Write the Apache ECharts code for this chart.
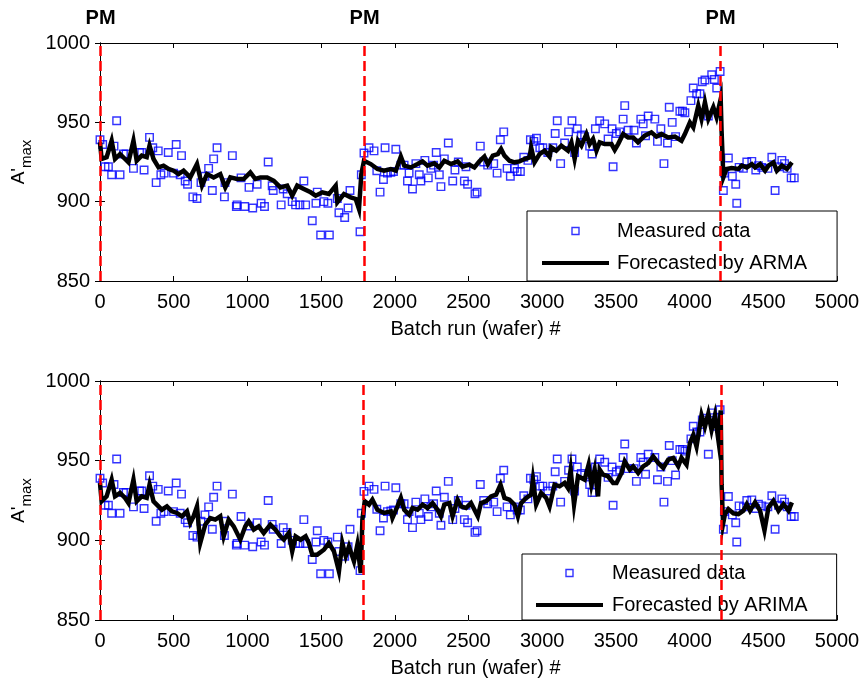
<!DOCTYPE html>
<html><head><meta charset="utf-8">
<script src="https://cdn.jsdelivr.net/npm/echarts@6/dist/echarts.min.js"></script>
<style>html,body{margin:0;padding:0;background:#fff}#c{width:864px;height:686px}</style>
</head><body><div id="c"></div>
<script>
const measuredRun = [0,18,34,57,79,95,113,136,159,177,227,268,283,299,336,358,381,395,413,435,463,499,517,544,553,578,594,630,658,685,712,737,762,771,794,844,848,898,925,930,957,982,1011,1036,1066,1093,1116,1141,1168,1175,1229,1243,1270,1304,1327,1356,1383,1395,1440,1465,1474,1497,1519,1546,1556,1610,1621,1660,1683,1696,1764,1773,
1791,1825,1859,1878,1900,1923,1934,1950,1973,1991,2007,2041,2063,2086,2097,2120,2143,2166,2177,2204,2227,2245,2263,2281,2302,2313,2336,2363,2393,2408,2431,2472,2483,2494,2544,2558,2580,2603,2630,2671,2694,2716,2739,2762,2784,2812,2830,2852,2875,2903,2920,2943,2961,2984,3004,3038,3072,3088,3102,3125,3152,3179,3202,3220,3238,3265,3288,3322,3338,3361,3390,3424,3447,3474,3481,
3503,3526,3549,3560,3583,3623,3639,3669,3685,3701,3719,3764,3782,3805,3826,3850,3862,3882,3905,3934,3952,3968,4009,4025,4048,4070,4086,4104,4127,4150,4168,4184,4207,4229,4236,4263,4290,4313,4320,4336,4365,4388,4422,4449,4467,4490,4531,4558,4580,4603,4626,4644,4662,4689,4710];
const measuredVal = [939,936,922,922,917,935,951,917,930,930,921,931,931,920,940.5,934,912,932,917,918,931,918,936,917,929,913,911,903,902,912,916,921,907,927,934,903,912,929,897,898,915,897,909,896,911,899,897,925,910,907,898,908,905,900,898,898,913,898,888,899,906,879,900,899,879,902,893,890,896,907,881,917,
930.7,934,932,919.5,906,914,934,918,918.5,919,933,923,923,913,918,908,924,917,913,926,915,921,923,931,917,909.5,927,937,913,920,925,913,922,911,905,906,935,925,923,924,918,939,944,921,916,921,919,919,928,926,939,938,940,934,934,931,934,943,951,924,937,944,951,931,946,942,941,935,930,946,951,949,939.5,946,922,
943,944,952,960.5,945,945,937,952,949,941.5,954,952,938,946,924,937,959.5,950,941,957,957,956,963.7,971.6,968,968,975.6,976.7,954,980,977,971.6,982,907,918,927.5,916,911,899,921.6,921,925,925.4,920,922.7,921.6,921,928,907,922,926,924,921,915,915];

const armaRun = [0,11,45,79,102,136,170,193,227,249,283,317,336,363,397,431,465,499,533,567,612,658,692,726,771,816,850,884,930,975,1020,1054,1088,1134,1179,1224,1270,1304,1338,1383,1429,1463,1508,1553,1599,1610,1655,1701,1735,1757,1773,1791,
1837,1882,1927,1973,2007,2041,2064,2109,2154,2188,2222,2268,2302,2336,2381,2426,2460,2506,2540,2574,2608,2631,2665,2699,2721,2744,2778,2812,2846,2880,2914,2925,2948,2982,3016,3050,3061,3095,3130,3175,3198,3220,3243,3266,3300,3322,3345,3368,3390,3424,3470,3492,3515,3549,3583,3617,
3650,3696,3741,3775,3809,3855,3900,3945,3968,4002,4025,4059,4081,4104,4127,4161,4183,4211,4217,4229,4251,4285,4331,4354,4388,4422,4444,4478,4512,4535,4569,4592,4626,4660,4694];
const armaVal = [937.4,926.9,928,938.4,926.9,930,926.9,924.8,938.4,925.8,929,928,935.3,926.9,921.6,922.7,920.6,919.5,917.4,919.5,915.3,923.7,910.1,917.4,915.3,917.4,909,915.3,914.3,914.3,918.5,914.3,915.3,915.3,913.2,909,910.1,903.8,910.1,908,905.9,903.8,905.9,904.8,910.1,899.6,904.8,902.7,901.7,895.4,917.4,925.8,
923.7,920.6,919.5,920.6,919.5,928.4,922.7,921.6,923.7,925.4,922.7,924.2,921.6,925.8,923.7,925.4,922.1,923.3,921.6,925.4,928.4,923.7,929,930,933.2,929,925.8,924.8,925.4,926.9,927.9,934.2,924.8,930,932.1,928.4,934.2,932.1,935.3,932.1,937.4,926.9,938.4,935.3,942.6,936.3,939.5,932.1,937.4,936.3,936.3,932.6,936.3,942.6,940.5,940.5,
937.4,941.6,943.7,941,942.6,940.5,941,938.4,942.6,950,946.8,960.5,952.1,962.6,952.1,959.5,953.2,964.7,944.7,915.3,920.6,921.2,920.6,922.7,921.6,923.7,921.6,923.7,919.5,922.7,924.8,919.5,922.7,920.6,924.8];

const arimaRun = [0,11,45,79,102,136,170,193,227,249,283,317,336,363,397,420,454,488,522,556,590,612,635,658,680,714,748,782,816,839,873,907,952,986,1009,1043,1077,1111,1156,1190,1224,1247,1281,1304,1327,1361,1395,1417,1440,1474,1519,1553,1587,1621,1644,1667,1689,1723,1746,1769,1780,1796,1825,1848,1882,1927,1973,
1984,2018,2041,2064,2098,2120,2154,2188,2222,2256,2290,2313,2336,2370,2392,2426,2449,2483,2517,2563,2585,2619,2653,2687,2717,2744,2778,2812,2835,2857,2891,2925,2937,2959,2993,3027,3050,3084,3118,3152,3175,3193,3216,3243,3288,3315,3334,3356,3379,3390,3413,3447,3481,3504,3538,3560,3594,3617,3651,3685,3719,
3753,3787,3821,3855,3889,3923,3945,3979,4002,4025,4047,4081,4104,4127,4149,4172,4195,4211,4217,4227,4240,4263,4297,4331,4365,4388,4410,4444,4478,4508,4535,4569,4603,4637,4671,4694];
const arimaVal = [936,924.5,927.6,938.1,927.6,929.7,926.6,923.4,938.1,924.5,927.6,926.6,934.9,924.5,921.3,919.2,921.3,918.2,917.2,915.1,918.2,910.9,915.1,921.3,898.3,909.8,914,913,915.1,902.5,913,908.8,900.4,908.8,911.9,906.7,908.8,904.6,909.8,906.7,902.5,900.4,904.6,893.1,902.5,900.4,902.5,898.3,891,891,894.1,898.3,893.1,880.5,898.3,890,896.2,886.8,897.3,879.5,913,924.5,922.4,925.5,919.2,917.2,918.2,
914,921.3,926.6,919.2,916.1,920.3,919.2,922.4,920.3,923.4,919.2,915.1,922.4,923.4,915.1,925.5,921.3,920.3,923.4,915.1,923.4,924.5,927.6,928.7,934.9,926.6,925.5,922.4,915.1,923.4,926.6,928.7,938.1,922.4,929.7,926.6,921.3,934.9,933.9,936,932.8,944.4,922.4,940.2,938.1,947.5,934.9,944.4,927.6,944.4,941.2,940.2,936,936,942.3,949.6,944.4,946.4,942.3,946.4,948.5,
952.7,948.6,945.5,950.6,951.7,946.5,951.7,947.5,961,966.1,958.9,978.5,971.3,979.5,969.2,978.5,963,981.6,935.1,910.3,916.5,919.6,916.9,916.5,918.6,922.7,918.6,923.8,918.6,906.2,920.7,924.8,918.6,922.7,918.6,923.8];

const pmRunTop = [4, 1795, 4210];
const pmRunBottom = [4, 1785, 4212];
const pmLabel = 'PM';
const xMin = 0, xMax = 5000, xStep = 500;
const yMin = 850, yMax = 1000, yStep = 50;
const xTitle = 'Batch run (wafer) #';
const seriesNames = ['Measured data', 'Forecasted by ARMA', 'Forecasted by ARIMA'];

const FONT = '"Liberation Sans", Arial, Helvetica, sans-serif';
const zip = (a, b) => a.map((v, i) => [v, b[i]]);
const plain = v => String(v);

function xAxes(gi) {
  return [
    { gridIndex: gi, type: 'value', min: xMin, max: xMax, interval: xStep, position: 'bottom',
      axisLine: { show: true, lineStyle: { color: '#000', width: 1 } },
      axisTick: { show: true, inside: true, length: 5, lineStyle: { color: '#000' } },
      axisLabel: { fontSize: 20, color: '#000', fontFamily: FONT, margin: 11, hideOverlap: false, formatter: plain },
      splitLine: { show: false },
      name: xTitle, nameLocation: 'middle', nameGap: 38,
      nameTextStyle: { fontSize: 20, color: '#000', fontFamily: FONT, padding: [0, 0, 0, 14] } },
    { gridIndex: gi, type: 'value', min: xMin, max: xMax, interval: xStep, position: 'top',
      axisLine: { show: true, lineStyle: { color: '#000', width: 1 } },
      axisTick: { show: true, inside: true, length: 5, lineStyle: { color: '#000' } },
      axisLabel: { show: false }, splitLine: { show: false } }
  ];
}
function yAxes(gi) {
  return [
    { gridIndex: gi, type: 'value', min: yMin, max: yMax, interval: yStep, position: 'left',
      axisLine: { show: true, lineStyle: { color: '#000', width: 1 } },
      axisTick: { show: true, inside: true, length: 5, lineStyle: { color: '#000' } },
      axisLabel: { fontSize: 20, color: '#000', fontFamily: FONT, margin: 10, formatter: plain },
      splitLine: { show: false },
      name: "{a|A'}{s|max}", nameLocation: 'middle', nameGap: 58, nameRotate: 90,
      nameTextStyle: { color: '#000', fontFamily: FONT,
        rich: { a: { fontSize: 19, fontFamily: FONT, color: '#000' },
                s: { fontSize: 15, fontFamily: FONT, color: '#000', padding: [16, 0, 0, 0] } } } },
    { gridIndex: gi, type: 'value', min: yMin, max: yMax, interval: yStep, position: 'right',
      axisLine: { show: true, lineStyle: { color: '#000', width: 1 } },
      axisTick: { show: true, inside: true, length: 5, lineStyle: { color: '#000' } },
      axisLabel: { show: false }, splitLine: { show: false } }
  ];
}
const scatterStyle = { color: 'rgba(0,0,0,0)', borderColor: '#0000ff', borderWidth: 1.4 };
function scatter(xi, yi) {
  return { name: seriesNames[0], type: 'scatter', xAxisIndex: xi, yAxisIndex: yi,
    symbol: 'rect', symbolSize: 7.5, itemStyle: scatterStyle, z: 2,
    data: zip(measuredRun, measuredVal), animation: false, silent: true };
}
function line(name, xi, yi, runs, vals, pm, showPM) {
  return { name: name, type: 'line', xAxisIndex: xi, yAxisIndex: yi, showSymbol: false, symbol: 'none',
    lineStyle: { color: '#000', width: 4.5, join: 'miter' }, itemStyle: { color: '#000' }, z: 3,
    data: zip(runs, vals), animation: false, silent: true,
    markLine: { silent: true, symbol: ['none', 'none'], animation: false,
      lineStyle: { color: '#ff0000', type: [10, 5], width: 2.5 },
      label: { show: showPM, position: 'end', formatter: pmLabel, fontSize: 20, fontWeight: 'bold',
               color: '#000', fontFamily: FONT, distance: 15 },
      emphasis: { disabled: true },
      data: pm.map(v => ({ xAxis: v })) } };
}
const sqIcon = 'path://M0,0L7,0L7,7L0,7Z';
const lineIcon = 'path://M0,0L67,0L67,4L0,4Z';
function legend(left, top, pad, txtPad, lineName) {
  return { orient: 'vertical', left: left, top: top, itemWidth: 67, itemHeight: 7, itemGap: 12,
    padding: pad, borderColor: '#000', borderWidth: 1, backgroundColor: '#fff', borderRadius: 0,
    selectedMode: false, symbolKeepAspect: true,
    textStyle: { fontSize: 20, color: '#000', fontFamily: FONT, padding: [0, 0, 0, txtPad] },
    data: [ { name: seriesNames[0], icon: sqIcon, itemStyle: scatterStyle },
            { name: lineName, icon: lineIcon, itemStyle: { color: '#000', borderWidth: 0 } } ] };
}

const chart = echarts.init(document.getElementById('c'), null, { renderer: 'canvas' });
chart.setOption({
  backgroundColor: '#fff',
  animation: false,
  grid: [ { left: 100, top: 43, width: 737, height: 238 }, { left: 100, top: 381, width: 737, height: 239 } ],
  xAxis: [...xAxes(0), ...xAxes(1)],
  yAxis: [...yAxes(0), ...yAxes(1)],
  legend: [ legend(527, 211, [10, 30, 8, 15], 3, seriesNames[1]), legend(522, 554, [9, 29, 5, 14], 4, seriesNames[2]) ],
  series: [
    scatter(0, 0),
    line(seriesNames[1], 0, 0, armaRun, armaVal, pmRunTop, true),
    scatter(2, 2),
    line(seriesNames[2], 2, 2, arimaRun, arimaVal, pmRunBottom, false)
  ]
});
</script></body></html>
